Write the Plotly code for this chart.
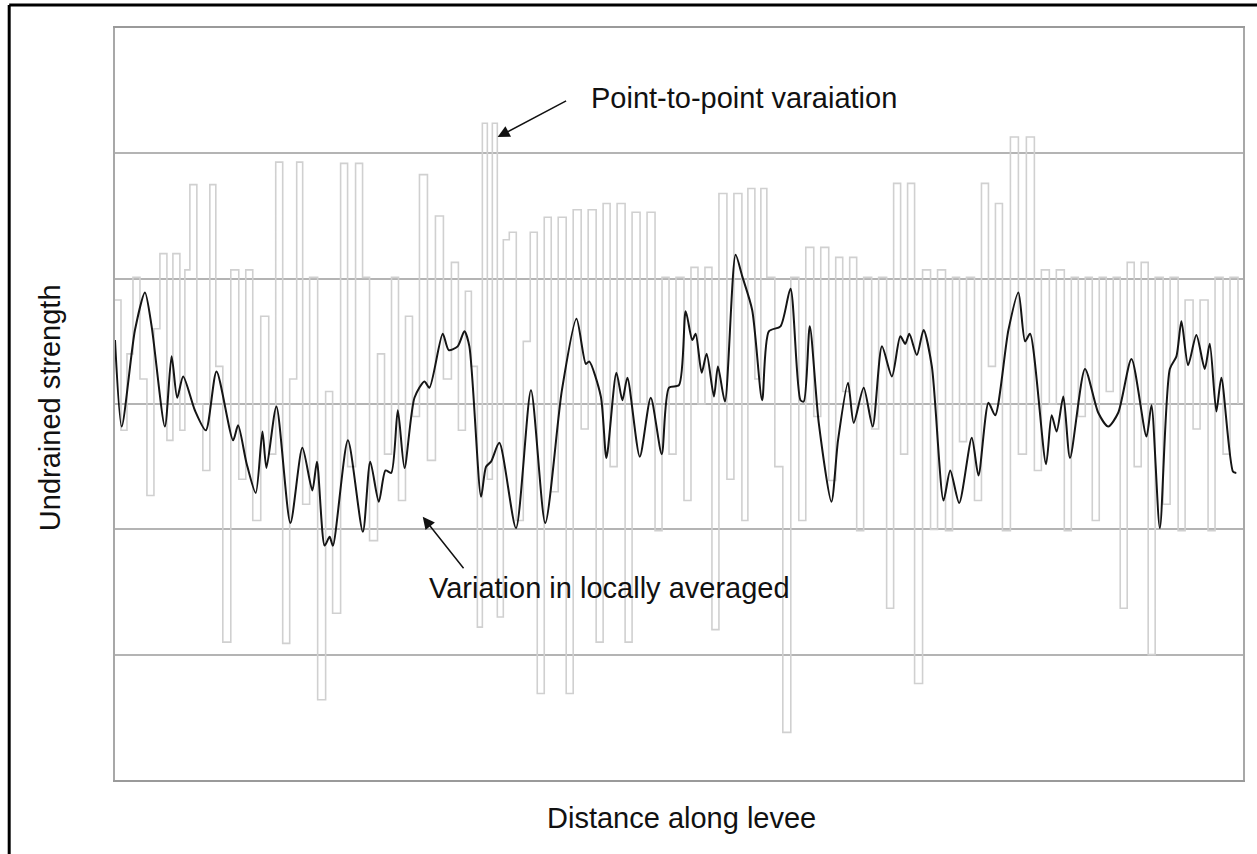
import plotly.graph_objects as go

# Locally averaged strength (black smooth curve)
avg_x = [0, 6.7, 20, 30, 36.7, 50, 56.7, 62.3, 68.3, 80, 91, 101.7, 118.3, 123.3, 131.7, 141, 147.7,
         151.7, 161.7, 175.7, 187.7, 197.7, 202.3, 210, 215, 218.3, 233.3, 248.3, 255.7, 264.3, 271,
         276.7, 283.3, 290, 300, 310, 315, 328.3, 334.3, 343.3, 350, 355, 366.7, 371.7, 376.7, 385,
         401.7, 416.7, 431, 447.7, 462.3, 471.7, 475, 486.7, 492.3, 502.3, 508.3, 513.3, 525.7, 536.7,
         547.7, 555, 565, 571.7, 578.3, 581.7, 587.7, 592.7, 600, 604, 611, 621.7, 628.3, 638.3, 648.3,
         655, 666.7, 676.7, 686.7, 690, 696, 705, 717.7, 724.3, 734.3, 740, 750, 759, 768.3, 778.3,
         786.7, 791.7, 795.7, 803.3, 810, 818.3, 830, 836.7, 845.7, 858.3, 865, 875, 881.7, 895, 905,
         911.7, 916.7, 932.7, 938.3, 943.3, 950, 956.7, 971.7, 985, 995, 1005, 1018.3, 1033.3, 1038.3,
         1046.7, 1056.7, 1063.3, 1068.3, 1075, 1083.3, 1091.7, 1096.7, 1103.3, 1108.3, 1120, 1123.3]
avg_y = [3.51, 2.82, 3.59, 3.89, 3.62, 2.82, 3.38, 3.05, 3.22, 2.95, 2.79, 3.26, 2.71, 2.83, 2.53, 2.29,
         2.78, 2.49, 2.98, 2.05, 2.65, 2.31, 2.54, 1.87, 1.94, 1.87, 2.71, 1.98, 2.54, 2.22, 2.47, 2.45,
         2.95, 2.49, 3.05, 3.18, 3.13, 3.56, 3.43, 3.46, 3.58, 3.46, 2.26, 2.50, 2.54, 2.69, 2.01, 3.11,
         2.05, 3.11, 3.68, 3.32, 3.34, 3.06, 2.57, 3.25, 3.03, 3.21, 2.58, 3.05, 2.60, 3.13, 3.15, 3.74,
         3.51, 3.56, 3.25, 3.40, 3.06, 3.30, 3.02, 4.19, 4.02, 3.75, 3.03, 3.58, 3.62, 3.92, 3.03, 3.02,
         3.62, 2.85, 2.22, 2.71, 3.17, 2.85, 3.13, 2.82, 3.46, 3.22, 3.54, 3.48, 3.56, 3.39, 3.59, 3.30,
         2.23, 2.47, 2.21, 2.73, 2.43, 3.01, 2.91, 3.59, 3.89, 3.50, 3.56, 2.52, 2.91, 2.78, 3.06, 2.57,
         3.28, 2.93, 2.82, 2.93, 3.36, 2.74, 2.99, 2.01, 3.28, 3.38, 3.66, 3.31, 3.55, 3.28, 3.48, 2.94,
         3.21, 2.46, 2.45]

# Point-to-point strength (light gray step series)
pt_x = [0, 6, 12, 18, 25, 32, 39, 45, 52, 58, 65, 70, 75, 82, 88, 95, 101, 108, 116, 124,
        131, 138, 146, 154, 161, 168, 175, 182, 188, 195, 203, 211, 218, 226, 233, 241,
        248, 255, 263, 270, 277, 284, 291, 298, 305, 313, 321, 329, 337, 344, 351, 357,
        363, 368, 373, 378, 383, 389, 395, 402, 409, 416, 423, 430, 437, 444,
        452, 459, 467, 474, 482, 489, 496, 503, 511, 518, 526, 533, 541, 548, 555, 562,
        570, 577, 584, 591, 598, 605, 613, 620, 628, 634, 641, 647, 653, 661, 669, 677,
        685, 692, 700, 707, 715, 722, 729, 736, 743, 750, 758, 765, 773, 780, 787, 794,
        801, 809, 817, 824, 832, 839, 846, 853, 861, 868, 875, 882, 889, 897, 905, 913,
        921, 928, 936, 943, 951, 958, 965, 972, 979, 986, 993, 1000, 1007, 1014, 1021, 1028,
        1035, 1042, 1050, 1057, 1065, 1072, 1080, 1087, 1095, 1102, 1110, 1117, 1125]
pt_y = [3.83, 2.79, 3.40, 4.01, 3.20, 2.27, 3.60, 4.20, 2.71, 4.20, 2.79, 4.07, 4.75, 3.00, 2.47, 4.75,
        3.30, 1.10, 4.07, 2.40, 4.07, 2.07, 3.70, 2.60, 4.93, 1.09, 3.20, 4.93, 2.20, 4.01, 0.64, 3.10,
        1.33, 4.92, 2.50, 4.92, 4.01, 1.91, 3.40, 2.60, 4.01, 2.23, 3.70, 2.90, 4.83, 2.55, 4.50, 3.20,
        4.13, 2.79, 3.90, 3.30, 1.22, 5.24, 2.40, 5.24, 1.30, 4.31, 4.37, 2.07, 3.50, 4.37,
        0.69, 4.49, 2.30, 4.49, 0.69, 4.55, 2.80, 4.55, 1.10, 4.60, 2.50, 4.60, 1.10, 4.53, 3.00, 4.53,
        1.99, 4.01, 2.60, 4.01, 2.23, 4.09, 3.00, 4.09, 1.20, 4.68, 2.40, 4.68, 2.07, 4.72, 3.20, 4.72,
        4.01, 2.50, 0.38, 4.01, 2.07, 4.25, 2.90, 4.25, 2.39, 4.17, 3.10, 4.17, 1.99, 4.01, 2.80, 4.01,
        1.37, 4.76, 2.60, 4.76, 0.77, 4.07, 2.00, 4.07, 1.99, 4.01, 2.70, 4.01, 2.23, 4.76, 3.30, 4.60,
        1.99, 5.13, 2.60, 5.13, 2.47, 4.07, 3.00, 4.07, 1.99, 4.01, 2.90, 4.01, 2.07, 4.01, 3.10, 4.01,
        1.37, 4.13, 2.50, 4.13, 1.00, 4.01, 2.20, 4.01, 1.99, 3.83, 2.80, 3.83, 1.99, 4.01, 2.60, 4.01,
        3.00]

x_title = "Distance along levee"
y_title = "Undrained strength"
label_point = "Point-to-point varaiation"
label_avg = "Variation in locally averaged"

FONT = "Liberation Sans, Arial, sans-serif"
FS = 29

fig = go.Figure()
fig.add_trace(go.Scatter(x=pt_x, y=pt_y, mode="lines", line=dict(color="#d0d0d0", width=1.6, shape="hv"),
                         hoverinfo="skip", showlegend=False))
fig.add_trace(go.Scatter(x=avg_x, y=avg_y, mode="lines",
                         line=dict(color="#151515", width=2, shape="spline", smoothing=0.7),
                         showlegend=False))

txt = dict(xref="paper", yref="paper", showarrow=False, xanchor="center", yanchor="middle",
           font=dict(size=FS, color="#111"))

fig.update_layout(
    width=1257, height=854,
    margin=dict(l=115, r=12, t=28, b=74),
    paper_bgcolor="white", plot_bgcolor="white",
    font=dict(family=FONT, size=FS, color="#111"),
    xaxis=dict(range=[0, 1130], showgrid=False, zeroline=False, showticklabels=False, ticks="",
               showline=True, linecolor="#9a9a9a", linewidth=2, mirror=True),
    yaxis=dict(range=[0, 6], dtick=1, showgrid=True, gridcolor="#b4b4b4", gridwidth=1.5,
               zeroline=False, showticklabels=False, ticks="",
               showline=True, linecolor="#a8a8a8", linewidth=2, mirror=True),
    annotations=[
        dict(text=label_point, x=0.5575, y=0.907, **txt),
        dict(text=label_avg, x=0.438, y=0.2553, **txt),
        dict(text=x_title, x=0.5018, y=-0.0505, **txt),
        dict(text=y_title, x=-0.0575, y=0.4947, textangle=-90, **txt),
        dict(text="", xref="x", yref="y", x=383.3, y=5.13, ax=70, ay=-37, showarrow=True,
             arrowhead=2, arrowsize=1.6, arrowwidth=1.5, arrowcolor="#111"),
        dict(text="", xref="x", yref="y", x=308.3, y=2.10, ax=42, ay=53, showarrow=True,
             arrowhead=2, arrowsize=1.6, arrowwidth=1.5, arrowcolor="#111"),
    ],
    shapes=[
        dict(type="line", xref="paper", yref="paper", x0=-0.0938, x1=-0.0938, y0=-0.12, y1=1.0306,
             line=dict(color="black", width=3)),
        dict(type="line", xref="paper", yref="paper", x0=-0.0938, x1=1.03, y0=1.0306, y1=1.0306,
             line=dict(color="black", width=3)),
    ],
)

fig.write_html("out.html", config={"displayModeBar": False},
               post_script="document.body.style.margin='0px';")
